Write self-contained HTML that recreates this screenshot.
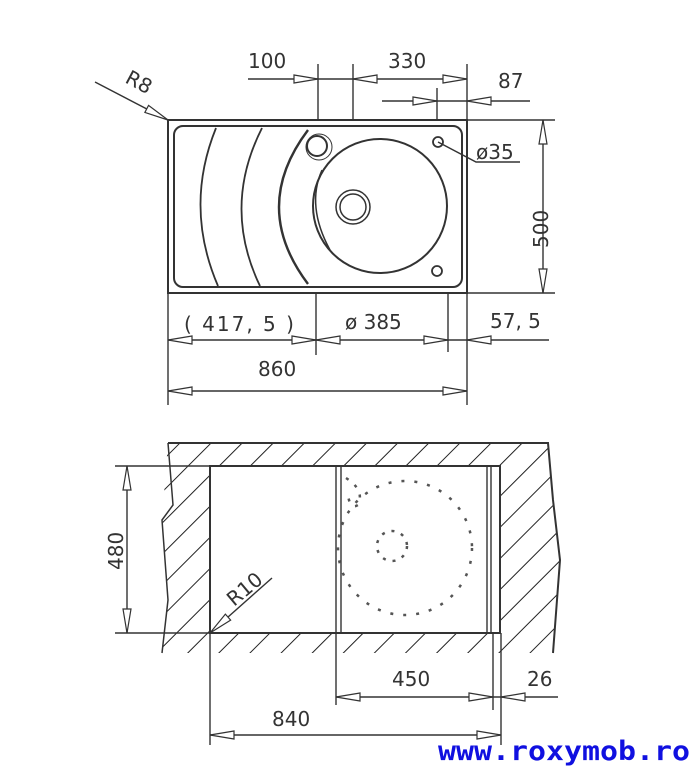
<!DOCTYPE html>
<html><head><meta charset="utf-8"><style>
html,body{margin:0;padding:0;background:#fff;}
svg{display:block;}
text{font-family:"DejaVu Sans","Liberation Sans",sans-serif;font-size:20px;fill:#333;}
</style></head><body>
<svg id="s" width="693" height="768" viewBox="0 0 693 768" xmlns="http://www.w3.org/2000/svg">
<defs>
<pattern id="h" patternUnits="userSpaceOnUse" width="22" height="22" patternTransform="rotate(45)">
<line x1="0" y1="0" x2="0" y2="22" stroke="#222" stroke-width="2"/>
</pattern>
</defs>
<g fill="none" stroke="#333" stroke-width="1.4">
<rect x="168" y="120" width="299" height="173" stroke-width="2"/>
<rect x="174" y="126" width="288" height="161" rx="9" stroke-width="2"/>
<path d="M216 128 Q184 207 218 286" stroke-width="1.8"/>
<path d="M262 128 Q222 207 260 286" stroke-width="1.8"/>
<path d="M308 130 Q250 207 308 284" stroke-width="2.4"/>
<circle cx="317" cy="146" r="10" stroke-width="2"/>
<circle cx="319" cy="147" r="13" stroke-width="1"/>
<circle cx="380" cy="206" r="67" stroke-width="2"/>
<path d="M322 170 Q306 206 330 250" stroke-width="1.5"/>
<circle cx="353" cy="207" r="17" stroke-width="1.5"/>
<circle cx="353" cy="207" r="13" stroke-width="1.5"/>
<circle cx="438" cy="142" r="5" stroke-width="1.8"/>
<circle cx="437" cy="271" r="5" stroke-width="1.8"/>
<line x1="248" y1="79" x2="467" y2="79"/>
<line x1="382" y1="101" x2="530" y2="101"/>
<line x1="318" y1="64" x2="318" y2="120"/>
<line x1="353" y1="64" x2="353" y2="120"/>
<line x1="467" y1="64" x2="467" y2="120"/>
<line x1="437" y1="88" x2="437" y2="120"/>
<line x1="95" y1="82" x2="168" y2="120"/>
<path d="M438 142 L476 162 L520 162"/>
<line x1="467" y1="120" x2="555" y2="120"/>
<line x1="467" y1="293" x2="555" y2="293"/>
<line x1="543" y1="120" x2="543" y2="293"/>
<line x1="168" y1="293" x2="168" y2="405"/>
<line x1="316" y1="293" x2="316" y2="355"/>
<line x1="448" y1="293" x2="448" y2="352"/>
<line x1="467" y1="293" x2="467" y2="405"/>
<line x1="168" y1="340" x2="549" y2="340"/>
<line x1="168" y1="391" x2="467" y2="391"/>
<path fill="url(#h)" fill-rule="evenodd" stroke="none" d="M168 443 L548 443 L560 560 L553 653 L162 653 L168 600 L162 520 Z M210 466 L500 466 L500 633 L210 633 Z"/>
<path d="M168 443 L548 443 L553 500 L560 560 L553 653" stroke-width="2"/>
<path d="M168 443 L173 505 L162 520 L168 600 L162 653" stroke-width="1.5"/>
<rect x="210" y="466" width="290" height="167" stroke-width="2"/>
<line x1="336" y1="466" x2="336" y2="633"/>
<line x1="341" y1="466" x2="341" y2="633"/>
<line x1="487" y1="466" x2="487" y2="633"/>
<line x1="491" y1="466" x2="491" y2="633"/>
<circle cx="405" cy="548" r="67" stroke-dasharray="3 10" stroke-width="2.5" stroke="#555"/>
<circle cx="392" cy="546" r="15" stroke-dasharray="3 7" stroke-width="2.5" stroke="#555"/>
<path d="M346 478 Q365 490 358 505 Q350 510 348 495" stroke-dasharray="3 8" stroke-width="2.5" stroke="#555"/>
<line x1="115" y1="466" x2="210" y2="466"/>
<line x1="115" y1="633" x2="210" y2="633"/>
<line x1="127" y1="466" x2="127" y2="633"/>
<line x1="210" y1="633" x2="272" y2="578"/>
<line x1="210" y1="633" x2="210" y2="745"/>
<line x1="336" y1="633" x2="336" y2="705"/>
<line x1="493" y1="633" x2="493" y2="710"/>
<line x1="501" y1="633" x2="501" y2="745"/>
<line x1="336" y1="697" x2="558" y2="697"/>
<line x1="210" y1="735" x2="501" y2="735"/>
</g>
<g id="ar" fill="#fff" stroke="#333" stroke-width="1.2"></g>
<text x="248" y="68">100</text>
<text x="388" y="68">330</text>
<text x="498" y="88">87</text>
<text x="0" y="0" transform="translate(124,82) rotate(28)">R8</text>
<text x="476" y="159">ø35</text>
<text x="0" y="0" transform="translate(548,248) rotate(-90)">500</text>
<text x="184" y="331" style="letter-spacing:2px">( 417, 5 )</text>
<text x="345" y="329">ø 385</text>
<text x="490" y="328">57, 5</text>
<text x="258" y="376">860</text>
<text x="0" y="0" transform="translate(123,570) rotate(-90)">480</text>
<text x="0" y="0" transform="translate(234,607) rotate(-40)">R10</text>
<text x="392" y="686">450</text>
<text x="527" y="686">26</text>
<text x="272" y="726">840</text>
<text x="438" y="760" textLength="252" lengthAdjust="spacingAndGlyphs" style="font-family:'DejaVu Sans Mono','Liberation Mono',monospace;font-weight:bold;font-size:27px;fill:#1010e0">www.roxymob.ro</text>
</svg>
<script>
var g=document.getElementById('ar');
function a(x,y,dx,dy){var L=24,W=4;var px=-dy,py=dx;
var bx=x-dx*L,by=y-dy*L;
var p=[[x,y],[bx+px*W,by+py*W],[bx-px*W,by-py*W]];
var e=document.createElementNS('http://www.w3.org/2000/svg','polygon');
e.setAttribute('points',p.map(function(q){return q.join(',')}).join(' '));g.appendChild(e);}
a(318,79,1,0);a(353,79,-1,0);a(467,79,1,0);
a(437,101,1,0);a(467,101,-1,0);
a(168,120,0.887,0.462);
a(543,120,0,-1);a(543,293,0,1);
a(168,340,-1,0);a(316,340,1,0);a(316,340,-1,0);a(448,340,1,0);a(467,340,-1,0);
a(168,391,-1,0);a(467,391,1,0);
a(127,466,0,-1);a(127,633,0,1);
a(210,633,-0.75,0.66);
a(336,697,-1,0);a(493,697,1,0);a(501,697,-1,0);
a(210,735,-1,0);a(501,735,1,0);
</script>
</body></html>
